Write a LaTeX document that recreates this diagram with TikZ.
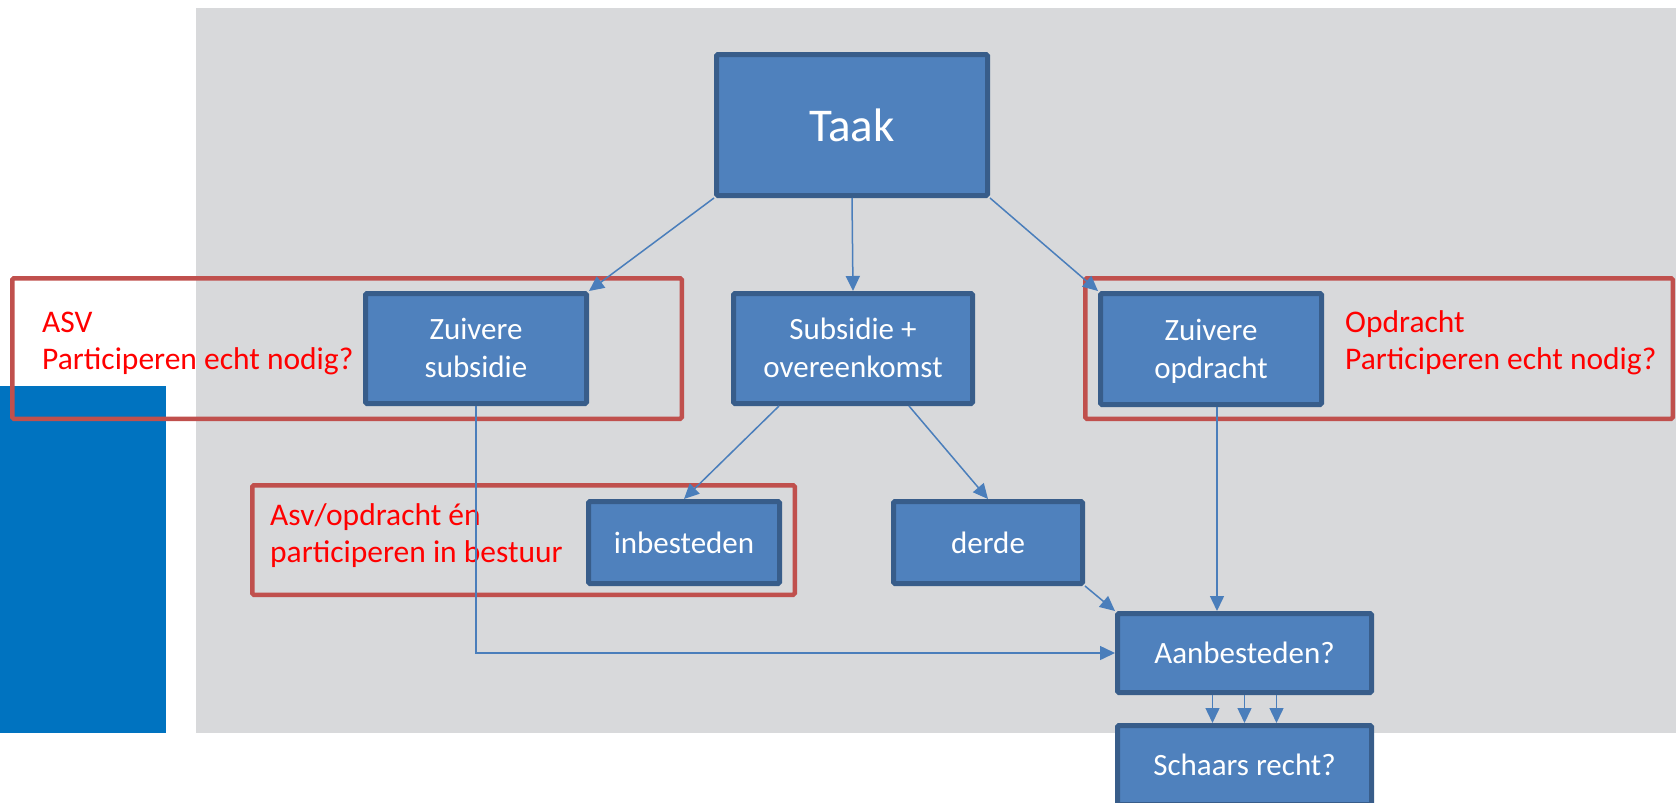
\documentclass[tikz,border=0pt]{standalone}
\usepackage{fontspec}
\setmainfont{Carlito}
\usetikzlibrary{arrows.meta}
\definecolor{bgGray}{HTML}{D8D9DB}
\definecolor{barBlue}{HTML}{0073C0}
\definecolor{boxFill}{HTML}{4F81BD}
\definecolor{boxLine}{HTML}{385D8A}
\definecolor{connBlue}{HTML}{4A7EBB}
\definecolor{frameRed}{HTML}{C0504D}
\definecolor{txtRed}{HTML}{FF0000}
\newcommand\bxstrut{\rule[-8pt]{0pt}{36pt}}
\newcommand\rdstrut{\rule[-9pt]{0pt}{37pt}}
\begin{document}
\begin{tikzpicture}[x=1pt,y=-1pt,
  flowbox/.style={draw=boxLine, line width=5pt, fill=boxFill, rounded corners=1.5pt,
    inner sep=0pt, text=white, align=center, font=\fontsize{31}{38}\selectfont},
  redframe/.style={draw=frameRed, line width=4.5pt, rounded corners=1.5pt, inner sep=0pt},
  redlabel/.style={text=txtRed, align=left, anchor=north west, inner sep=0pt,
    font=\fontsize{31.5}{37}\selectfont},
  link/.style={draw=connBlue, line width=1.5pt, -{Triangle[length=15pt,width=14pt]}}
]
\useasboundingbox (0,0) rectangle (1676,803);
% background panels
\fill[bgGray] (196,8) rectangle (1676,733);
\fill[barBlue] (0,386) rectangle (166,733);

% red frames
\node[redframe, minimum width=669.5pt, minimum height=140.5pt] (asvF) at (347,348.5) {};
\node[redframe, minimum width=587.5pt, minimum height=140.5pt] (opdF) at (1379,348.5) {};
\node[redframe, minimum width=542.5pt, minimum height=109.5pt] (asv2F) at (523.5,540) {};

% red labels
\node[redlabel] (asvT) at (42,304) {\rdstrut ASV\\\rdstrut Participeren echt nodig?};
\node[redlabel] (opdT) at (1345,304) {\rdstrut Opdracht\\\rdstrut Participeren echt nodig?};
\node[redlabel] (asv2T) at (270,497) {\rdstrut Asv/opdracht én\\\rdstrut participeren in bestuur};

% flow boxes
\node[flowbox, minimum width=271pt, minimum height=141pt, font=\fontsize{47}{56}\selectfont] (taak) at (852,125) {Taak};
\node[flowbox, minimum width=221pt, minimum height=110pt] (zs) at (476,348.5) {\bxstrut Zuivere\\\bxstrut subsidie};
\node[flowbox, minimum width=239pt, minimum height=110pt] (so) at (853,348.5) {\bxstrut Subsidie +\\\bxstrut overeenkomst};
\node[flowbox, minimum width=221pt, minimum height=111pt] (zo) at (1211,349) {\bxstrut Zuivere\\\bxstrut opdracht};
\node[flowbox, minimum width=191pt, minimum height=82pt] (inb) at (684,542.5) {inbesteden};
\node[flowbox, minimum width=189pt, minimum height=82pt] (derde) at (988,542.5) {derde};
\node[flowbox, minimum width=254pt, minimum height=79pt] (aan) at (1244.5,653) {Aanbesteden?};
\node[flowbox, minimum width=254pt, minimum height=79pt] (sch) at (1244.5,765) {Schaars recht?};

% connectors
\draw[link] (taak.south west) -- (zs.north east);
\draw[link] (taak.south) -- (so.north);
\draw[link] (taak.south east) -- (zo.north west);
\draw[link] ([xshift=-74pt]so.south) -- (inb.north);
\draw[link] ([xshift=56pt]so.south) -- (derde.north);
\draw[link] (zs.south) |- (aan.west);
\coordinate (zoOut) at ([xshift=6pt]zo.south);
\draw[link] (zoOut) -- (zoOut |- aan.north);
\draw[link] (derde.south east) -- (aan.north west);
\foreach \dx in {-32,0,32}
  \draw[link] ([xshift=\dx pt]aan.south) -- ([xshift=\dx pt]sch.north);
\end{tikzpicture}
\end{document}
